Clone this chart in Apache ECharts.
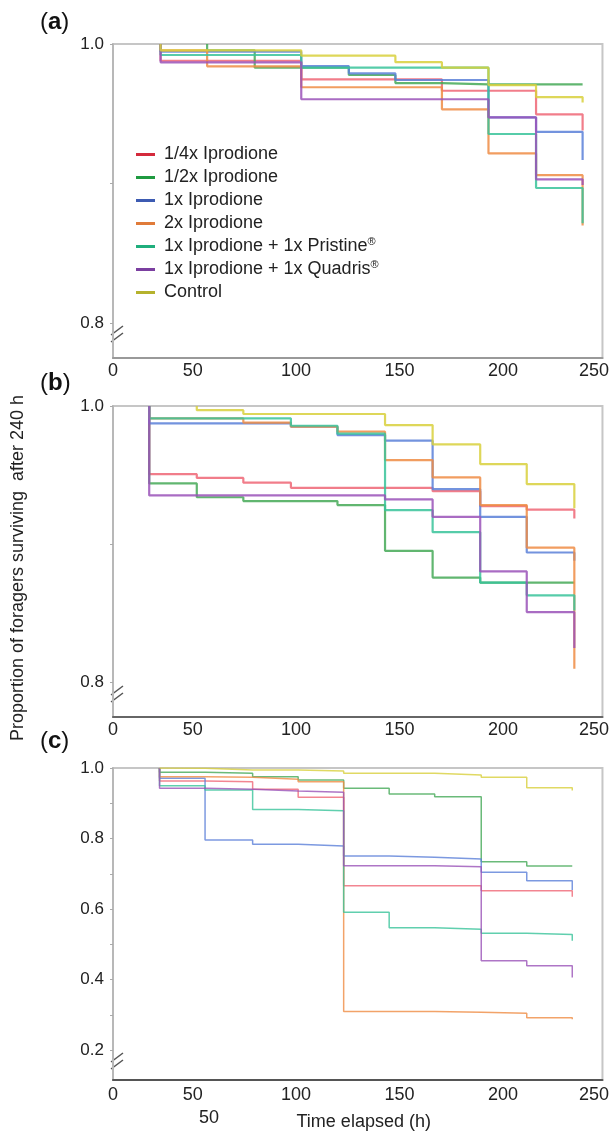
<!DOCTYPE html>
<html>
<head>
<meta charset="utf-8">
<script src="https://cdn.jsdelivr.net/npm/echarts@6/dist/echarts.min.js"></script>
<style>
html, body { margin: 0; padding: 0; background: #fff; }
#main { width: 612px; height: 1133px; }
</style>
</head>
<body>
<div id="main"></div>
<script>
// 处理组名称
var groups = ['1/4x Iprodione', '1/2x Iprodione', '1x Iprodione', '2x Iprodione',
  '1x Iprodione + 1x Pristine®', '1x Iprodione + 1x Quadris®', 'Control'];
var legendColors = ['#d42a3c', '#1f9a40', '#3d5bb2', '#e07b39', '#1fae7c', '#7b3fa0', '#b5b22d'];
var lineColors = ['#ef6676', '#45a957', '#5b80d8', '#ef8c44', '#38c39a', '#9a52b8', '#d8d03c'];

// x轴刻度文字
var xTickLabels = ['0', '50', '100', '150', '200', '250'];

// (a) 面板：时间点与生存比例
var timesA = [34.5, 57, 80, 102.5, 125.5, 148, 170.5, 193, 216, 238.5];
var survA = [
  [0.988, 0.988, 0.988, 0.9747, 0.9747, 0.9747, 0.9665, 0.9665, 0.9496, 0.9496],
  [1.0, 0.9955, 0.983, 0.983, 0.9778, 0.972, 0.971, 0.971, 0.971, 0.971],
  [0.9945, 0.9945, 0.9945, 0.9842, 0.979, 0.9742, 0.9742, 0.9474, 0.9371, 0.9371],
  [0.9955, 0.984, 0.984, 0.969, 0.969, 0.969, 0.9532, 0.9216, 0.906, 0.906],
  [0.9921, 0.9921, 0.9921, 0.983, 0.983, 0.983, 0.983, 0.9355, 0.8968, 0.8968],
  [0.9869, 0.9869, 0.9869, 0.9604, 0.9604, 0.9604, 0.9604, 0.9474, 0.903, 0.903],
  [0.9955, 0.9955, 0.9955, 0.9916, 0.9916, 0.987, 0.983, 0.9706, 0.962, 0.962]
];
var endA = [0.938, 0.971, 0.9168, 0.870, 0.8715, 0.899, 0.958];

// (b) 面板
var timesB = [29, 52, 74.5, 97.5, 120, 143, 166, 189, 211.5, 234.5];
var survB = [
  [0.9507, 0.948, 0.9445, 0.9408, 0.9408, 0.9408, 0.9384, 0.9275, 0.925, 0.925],
  [0.944, 0.934, 0.9312, 0.9312, 0.9283, 0.8952, 0.8759, 0.8722, 0.8722, 0.8722],
  [0.9874, 0.9874, 0.9874, 0.985, 0.979, 0.9749, 0.9398, 0.9198, 0.894, 0.894],
  [0.991, 0.991, 0.988, 0.985, 0.9814, 0.9609, 0.9483, 0.9283, 0.8975, 0.8975],
  [0.991, 0.991, 0.991, 0.9857, 0.980, 0.9246, 0.9087, 0.8722, 0.863, 0.863],
  [0.9353, 0.9353, 0.9353, 0.9353, 0.9353, 0.9324, 0.9198, 0.8803, 0.8509, 0.8509],
  [1.0, 0.997, 0.9942, 0.9942, 0.9942, 0.9862, 0.9722, 0.958, 0.9435, 0.9435]
];
var endB = [0.9186, 0.8722, 0.888, 0.8099, 0.852, 0.825, 0.926];

// (c) 面板
var timesC = [34, 56, 79, 101, 123, 145, 167, 189.5, 211.5, 233.5];
var survC = [
  [0.963, 0.961, 0.9395, 0.917, 0.666, 0.666, 0.666, 0.652, 0.652, 0.652],
  [0.9877, 0.985, 0.9754, 0.966, 0.9423, 0.926, 0.9187, 0.734, 0.722, 0.722],
  [0.9707, 0.7957, 0.7835, 0.7787, 0.7504, 0.7466, 0.742, 0.704, 0.680, 0.680],
  [0.975, 0.9735, 0.968, 0.961, 0.309, 0.309, 0.307, 0.304, 0.2917, 0.2917],
  [0.95, 0.9376, 0.8826, 0.879, 0.5906, 0.547, 0.5423, 0.531, 0.528, 0.528],
  [0.9423, 0.94, 0.9348, 0.931, 0.7229, 0.7229, 0.72, 0.4534, 0.439, 0.439],
  [0.999, 0.9943, 0.9943, 0.9915, 0.985, 0.985, 0.980, 0.9735, 0.944, 0.944]
];
var endC = [0.635, 0.72, 0.654, 0.287, 0.51, 0.406, 0.936];

var font = "'Liberation Sans', Arial, Helvetica, sans-serif";
var xMin = 11.5, xMax = 248.1;
var xTickPos = [xMin, 50, 100, 150, 200, 244];

// 阶梯曲线：从1.0开始，最后在终点垂直下降
function buildSeries(times, surv, ends, idx, width, opacity) {
  return groups.map(function (name, i) {
    var s = 0;
    while (s < times.length - 1 && surv[i][s] >= 1) s++;
    var pts = [[times[s], 1.0]];
    for (var k = s; k < times.length; k++) pts.push([times[k], surv[i][k]]);
    pts.push([times[times.length - 1], ends[i]]);
    return {
      name: name,
      type: 'line',
      step: 'end',
      xAxisIndex: idx,
      yAxisIndex: idx,
      data: pts,
      showSymbol: false,
      silent: true,
      itemStyle: { color: lineColors[i] },
      lineStyle: { color: lineColors[i], width: width, opacity: opacity }
    };
  });
}

function xAxisOf(idx, lineColor, margin) {
  return {
    gridIndex: idx, type: 'value', min: xMin, max: xMax,
    axisLine: { lineStyle: { color: lineColor, width: 2 } },
    axisTick: { show: false },
    splitLine: { show: false },
    axisLabel: {
      customValues: xTickPos, fontSize: 18, color: '#222', margin: margin,
      fontFamily: font,
      formatter: function (v) { return xTickLabels[xTickPos.indexOf(v)]; }
    }
  };
}

function yAxisOf(idx, min, labels, ticks) {
  return {
    gridIndex: idx, type: 'value', min: min, max: 1.0,
    axisLine: { show: true, lineStyle: { color: '#b8b8b8', width: 2 } },
    axisTick: { show: true, length: 3, customValues: ticks, lineStyle: { color: '#aaa' } },
    splitLine: { show: false },
    axisLabel: {
      customValues: labels, fontSize: 17, color: '#222', margin: 9, fontFamily: font,
      formatter: function (v) { return v.toFixed(1); }
    }
  };
}

function breakMark(y) {
  return {
    type: 'group', x: 117, y: y, children: [
      { type: 'rect', shape: { x: -4, y: -4, width: 8, height: 8 }, style: { fill: '#fff' } },
      { type: 'line', shape: { x1: -6, y1: 1, x2: 6, y2: -8 }, style: { stroke: '#555', lineWidth: 1.5 } },
      { type: 'line', shape: { x1: -6, y1: 8, x2: 6, y2: -1 }, style: { stroke: '#555', lineWidth: 1.5 } }
    ]
  };
}

function panelLabel(letter, y) {
  return {
    type: 'text', x: 40, y: y,
    style: {
      text: '{p|(}{b|' + letter + '}{p|)}', verticalAlign: 'middle',
      rich: {
        p: { fontSize: 24, fontFamily: font, fill: '#111' },
        b: { fontSize: 24, fontFamily: font, fontWeight: 'bold', fill: '#111' }
      }
    }
  };
}

var myChart = echarts.init(document.getElementById('main'), null, { renderer: 'canvas' });

var gridStyle = { show: true, borderColor: '#c6c6c6', borderWidth: 2, backgroundColor: '#fff' };
var option = {
  animation: false,
  textStyle: { fontFamily: font },
  grid: [
    Object.assign({ left: 113, top: 44, width: 492, height: 314 }, gridStyle),
    Object.assign({ left: 113, top: 406, width: 492, height: 311 }, gridStyle),
    Object.assign({ left: 113, top: 768, width: 492, height: 312 }, gridStyle)
  ],
  xAxis: [
    xAxisOf(0, '#999', 4),
    xAxisOf(1, '#666', 4),
    Object.assign(xAxisOf(2, '#555', 6), {
      name: 'Time elapsed (h)', nameLocation: 'middle', nameGap: 33,
      nameTextStyle: { fontSize: 18, color: '#222', fontFamily: font, padding: [0, 0, 0, 12] }
    })
  ],
  yAxis: [
    yAxisOf(0, 0.775, [0.8, 1.0], [0.8, 0.9, 1.0]),
    yAxisOf(1, 0.775, [0.8, 1.0], [0.8, 0.9, 1.0]),
    yAxisOf(2, 0.115, [0.2, 0.4, 0.6, 0.8, 1.0], [0.2, 0.3, 0.4, 0.5, 0.6, 0.7, 0.8, 0.9, 1.0])
  ],
  legend: {
    orient: 'vertical', left: 131, top: 139, itemWidth: 19, itemHeight: 3, itemGap: 2,
    selectedMode: false,
    data: groups.map(function (g, i) {
      return { name: g, icon: 'rect', itemStyle: { color: legendColors[i] } };
    }),
    formatter: function (name) { return name.replace('®', '{sup|®}'); },
    textStyle: {
      fontSize: 18, color: '#222', fontFamily: font, lineHeight: 21, padding: [0, 0, 0, 4],
      rich: { sup: { fontSize: 11, color: '#222', fontFamily: font, padding: [0, 0, 9, 0] } }
    }
  },
  graphic: [
    panelLabel('a', 22), panelLabel('b', 383), panelLabel('c', 741),
    breakMark(334), breakMark(694), breakMark(1061),
    {
      type: 'text', x: 18, y: 568, rotation: Math.PI / 2,
      style: {
        text: 'Proportion of foragers surviving  after 240 h', fontSize: 18, fontFamily: font,
        fill: '#222', align: 'center', verticalAlign: 'middle'
      }
    },
    {
      type: 'text', x: 209, y: 1118,
      style: { text: '50', fontSize: 18, fontFamily: font, fill: '#222', align: 'center', verticalAlign: 'middle' }
    }
  ],
  series: []
    .concat(buildSeries(timesA, survA, endA, 0, 2.2, 0.85))
    .concat(buildSeries(timesB, survB, endB, 1, 2.2, 0.85))
    .concat(buildSeries(timesC, survC, endC, 2, 1.5, 0.8))
};
myChart.setOption(option);
</script>
</body>
</html>
